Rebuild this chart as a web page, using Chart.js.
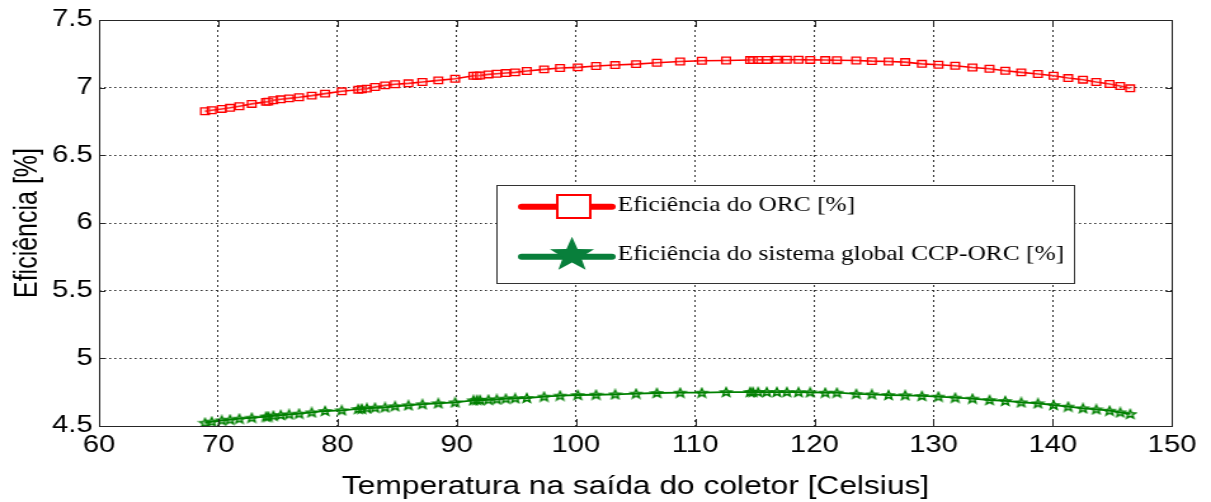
<!DOCTYPE html>
<html lang="pt">
<head>
<meta charset="UTF-8" />
<title>Eficiência ORC x Temperatura</title>
<script src="https://cdn.jsdelivr.net/npm/chart.js"></script>
<style>
  html, body { margin: 0; padding: 0; background: #fff; overflow: hidden; }
  /* the original figure is stretched horizontally, so draw narrow and widen */
  .stretch { width: 954px; height: 502px; transform: scaleX(1.2694); transform-origin: 0 0; }
</style>
</head>
<body>
<div class="stretch"><canvas id="efficiencyChart"></canvas></div>
<script>
// collector outlet temperature [Celsius]
const temps = [
  68.89, 69.45, 70.29, 70.99, 71.77, 72.81, 74.01, 74.2, 74.62, 75.24,
  75.94, 76.78, 77.84, 78.96, 80.36, 81.75, 82.04, 82.46, 83.15, 83.99,
  84.83, 85.95, 87.12, 88.46, 89.87, 91.4, 91.69, 91.96, 92.66, 93.36,
  94.12, 94.9, 95.88, 97.33, 98.67, 100.16, 101.69, 103.29, 105.05, 106.79,
  108.74, 110.56, 112.6, 114.61, 114.85, 115.28, 116.01, 116.85, 117.69, 118.67,
  119.65, 120.91, 121.89, 123.51, 124.82, 126.22, 127.62, 129.02, 130.41, 131.81,
  133.26, 134.69, 136.01, 137.35, 138.75, 140.06, 141.29, 142.53, 143.64, 144.76,
  145.65, 146.49
];

// ORC efficiency [%]
const orcEff = [
  6.826, 6.833, 6.843, 6.851, 6.863, 6.88, 6.895, 6.897, 6.907, 6.914,
  6.921, 6.929, 6.941, 6.956, 6.973, 6.985, 6.988, 6.993, 7.005, 7.017,
  7.025, 7.032, 7.042, 7.054, 7.066, 7.088, 7.088, 7.09, 7.098, 7.103,
  7.108, 7.113, 7.123, 7.135, 7.145, 7.15, 7.16, 7.167, 7.174, 7.184,
  7.193, 7.199, 7.201, 7.204, 7.204, 7.205, 7.205, 7.206, 7.206, 7.206,
  7.205, 7.204, 7.203, 7.201, 7.196, 7.193, 7.189, 7.176, 7.169, 7.162,
  7.149, 7.14, 7.125, 7.113, 7.101, 7.088, 7.071, 7.059, 7.042, 7.027,
  7.012, 6.995
];

// global CCP-ORC system efficiency [%]
const globalEff = [
  4.524, 4.532, 4.542, 4.547, 4.554, 4.561, 4.569, 4.57, 4.576, 4.581,
  4.586, 4.591, 4.601, 4.611, 4.616, 4.626, 4.627, 4.631, 4.635, 4.638,
  4.646, 4.653, 4.661, 4.668, 4.675, 4.69, 4.692, 4.692, 4.694, 4.697,
  4.702, 4.705, 4.707, 4.717, 4.724, 4.729, 4.731, 4.734, 4.739, 4.744,
  4.746, 4.746, 4.751, 4.751, 4.751, 4.751, 4.751, 4.751, 4.751, 4.75,
  4.749, 4.746, 4.746, 4.737, 4.734, 4.729, 4.727, 4.722, 4.717, 4.709,
  4.702, 4.692, 4.685, 4.675, 4.668, 4.655, 4.643, 4.631, 4.623, 4.613,
  4.601, 4.589
];

const xTicks = [60, 70, 80, 90, 100, 110, 120, 130, 140, 150];
const yTicks = [4.5, 5, 5.5, 6, 6.5, 7, 7.5];

const seriesLabels = ["Eficiência do ORC [%]", "Eficiência do sistema global CCP-ORC [%]"];
const xTitle = "Temperatura na saída do coletor [Celsius]";
const yTitle = "Eficiência [%]";

const STRETCH = 1.2694;

function starPath(ctx, cx, cy, R, r) {
  ctx.beginPath();
  for (let i = 0; i < 10; i++) {
    const rad = i % 2 === 0 ? R : r;
    const a = -Math.PI / 2 + (i * Math.PI) / 5;
    const px = cx + rad * Math.cos(a);
    const py = cy + rad * Math.sin(a);
    if (i === 0) ctx.moveTo(px, py);
    else ctx.lineTo(px, py);
  }
  ctx.closePath();
}

// small hollow star used as point marker
const starMarker = document.createElement("canvas");
starMarker.width = 12;
starMarker.height = 12;
(function () {
  const c = starMarker.getContext("2d");
  starPath(c, 6, 6.4, 4.6, 2.0);
  c.fillStyle = "rgba(0,128,0,0.25)";
  c.fill();
  c.strokeStyle = "#008000";
  c.lineWidth = 1.4;
  c.stroke();
})();

const toPoints = (ys) => temps.map((t, i) => ({ x: t, y: ys[i] }));

// box, inward ticks and the boxed legend of the original figure
const framePlugin = {
  id: "matlabFrame",
  beforeDraw(chart) {
    const ctx = chart.ctx;
    ctx.save();
    ctx.fillStyle = "#fff";
    ctx.fillRect(0, 0, chart.width, chart.height);
    ctx.restore();
  },
  afterDraw(chart) {
    const ctx = chart.ctx;
    const a = chart.chartArea;
    const xs = chart.scales.x;
    const ys = chart.scales.y;
    ctx.save();
    ctx.strokeStyle = "#262626";
    ctx.lineWidth = 1;
    ctx.beginPath();
    xTicks.forEach((v) => {
      const px = Math.round(xs.getPixelForValue(v)) + 0.5;
      ctx.moveTo(px, a.bottom); ctx.lineTo(px, a.bottom - 7);
      ctx.moveTo(px, a.top); ctx.lineTo(px, a.top + 7);
    });
    yTicks.forEach((v) => {
      const py = Math.round(ys.getPixelForValue(v)) + 0.5;
      ctx.moveTo(a.left, py); ctx.lineTo(a.left + 5, py);
      ctx.moveTo(a.right, py); ctx.lineTo(a.right - 5, py);
    });
    ctx.stroke();
    ctx.strokeRect(Math.round(a.left) + 0.5, Math.round(a.top) + 0.5,
      Math.round(a.right - a.left), Math.round(a.bottom - a.top));

    // legend
    const box = { x: 391, y: 185, w: 455, h: 98 };
    ctx.fillStyle = "#fff";
    ctx.fillRect(box.x, box.y, box.w, box.h);
    ctx.strokeStyle = "#333";
    ctx.lineWidth = 1;
    ctx.strokeRect(box.x + 0.5, box.y + 0.5, box.w, box.h);

    const rows = [
      { y: 206.7, base: 211, color: "#ff0000", label: chart.data.datasets[0].label, kind: "square" },
      { y: 256.7, base: 260, color: "#087f3b", label: chart.data.datasets[1].label, kind: "star" }
    ];
    rows.forEach((row) => {
      ctx.strokeStyle = row.color;
      ctx.lineWidth = 6;
      ctx.lineCap = "round";
      ctx.beginPath();
      ctx.moveTo(411, row.y);
      ctx.lineTo(482, row.y);
      ctx.stroke();
      if (row.kind === "square") {
        ctx.fillStyle = "#fff";
        ctx.fillRect(439, 195, 26, 23);
        ctx.lineWidth = 2;
        ctx.strokeStyle = row.color;
        ctx.strokeRect(439, 195, 26, 23);
      } else {
        starPath(ctx, 450.6, 255, 18.3, 7.5);
        ctx.fillStyle = row.color;
        ctx.fill();
      }
      ctx.save();
      ctx.translate(486.4, row.base);
      ctx.scale(0.931, 1);
      ctx.fillStyle = "#000";
      ctx.font = "21.5px 'Liberation Serif', serif";
      ctx.textBaseline = "alphabetic";
      ctx.textAlign = "left";
      ctx.fillText(row.label, 0, 0);
      ctx.restore();
    });
    ctx.restore();
  }
};

const tickFont = { family: "'Liberation Sans', Arial, sans-serif", size: 23 };
const titleFont = { family: "'Liberation Sans', Arial, sans-serif", size: 25 };

new Chart(document.getElementById("efficiencyChart"), {
  type: "scatter",
  data: {
    datasets: [
      {
        label: seriesLabels[0],
        data: toPoints(orcEff),
        showLine: true,
        borderColor: "#ff0000",
        borderWidth: 1.6,
        pointStyle: "rect",
        pointRadius: 4.7,
        pointBorderWidth: 1.3,
        pointBorderColor: "#ff0000",
        pointBackgroundColor: "rgba(255,160,160,0.25)"
      },
      {
        label: seriesLabels[1],
        data: toPoints(globalEff),
        showLine: true,
        borderColor: "#008000",
        borderWidth: 1.8,
        pointStyle: starMarker,
        pointRadius: 5
      }
    ]
  },
  options: {
    responsive: true,
    maintainAspectRatio: false,
    animation: false,
    devicePixelRatio: 1,
    layout: { padding: { top: 20, right: 30.7, left: 0, bottom: 0 } },
    plugins: {
      legend: { display: false },
      tooltip: { enabled: false }
    },
    scales: {
      x: {
        type: "linear",
        min: 60,
        max: 150,
        afterBuildTicks: (scale) => { scale.ticks = xTicks.map((v) => ({ value: v })); },
        afterFit: (scale) => { scale.height = 76; },
        ticks: { font: tickFont, color: "#000", padding: 6, maxRotation: 0, callback: (v) => String(v) },
        grid: { color: "#333", lineWidth: 1, drawTicks: false },
        border: { display: false, dash: [2, 3] },
        title: { display: true, text: xTitle, font: titleFont, color: "#000", padding: { top: 0, bottom: 0 } }
      },
      y: {
        min: 4.5,
        max: 7.5,
        afterBuildTicks: (scale) => { scale.ticks = yTicks.map((v) => ({ value: v })); },
        afterFit: (scale) => { scale.width = 78; },
        ticks: { font: tickFont, color: "#000", padding: 5, callback: (v) => String(v) },
        grid: { color: "#333", lineWidth: 1, drawTicks: false },
        border: { display: false, dash: [1.6, 2.4] },
        title: { display: true, text: yTitle, font: titleFont, color: "#000", padding: { top: 7, bottom: 0 } }
      }
    }
  },
  plugins: [framePlugin]
});
</script>
</body>
</html>
